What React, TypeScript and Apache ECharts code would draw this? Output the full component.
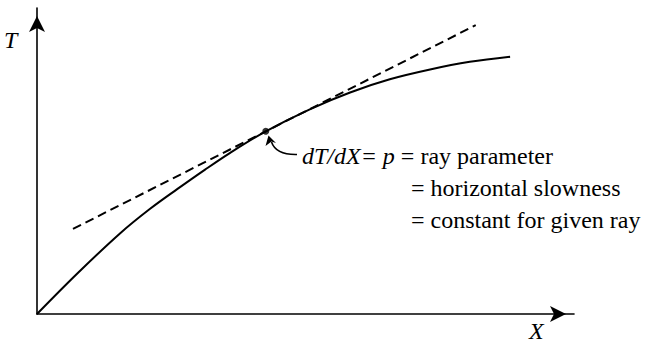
import React, { useEffect, useRef } from "react";
import * as echarts from "echarts";

// Travel-time curve T(X) (arbitrary units, 0..100 on both axes)
const curveX = [0, 7.6, 15.5, 21, 26.1, 31.3, 35.9, 42.6, 50.8, 58.3, 65.7, 73.2, 80.6, 88.1];
const curveT = [0, 13.4, 26.4, 34.3, 40.8, 47.2, 52.6, 59.7, 66.9, 72.4, 76.7, 79.9, 82.4, 84.1];

// Point where the slope is taken
const tangentPoint = [42.6, 59.7];

// Tangent line end points
const tangentX = [6.7, 81.7];
const tangentT = [27.8, 94.4];

const axisNames = ["X", "T"];
const noteLines = [
  "{i|dT/dX=}{r| }{i|p}{r| = ray parameter}",
  "= horizontal slowness",
  "= constant for given ray",
];

const FONT_REGULAR = "24px Liberation Serif, serif";
const FONT_ITALIC = "italic 24px Liberation Serif, serif";

export default function App() {
  const ref = useRef<HTMLDivElement>(null);

  useEffect(() => {
    if (!ref.current) return;
    const chart = echarts.init(ref.current, undefined, { renderer: "svg" });

    const axisCommon = {
      type: "value" as const,
      min: 0,
      max: 100,
      axisTick: { show: false },
      axisLabel: { show: false },
      splitLine: { show: false },
      axisLine: {
        show: true,
        onZero: false,
        symbol: ["none", "arrow"],
        symbolSize: [12, 16],
        symbolOffset: [0, -8],
        lineStyle: { color: "#000", width: 1.6 },
      },
    };

    chart.setOption({
      animation: false,
      backgroundColor: "#fff",
      grid: { left: 37, right: 78, top: 8, bottom: 32, containLabel: false },
      xAxis: { ...axisCommon },
      yAxis: { ...axisCommon },
      series: [
        {
          type: "line",
          data: curveX.map((x, i) => [x, curveT[i]]),
          smooth: 0.35,
          showSymbol: false,
          lineStyle: { color: "#000", width: 2 },
          z: 3,
        },
        {
          type: "line",
          data: tangentX.map((x, i) => [x, tangentT[i]]),
          showSymbol: false,
          lineStyle: { color: "#000", width: 2, type: [9, 5] },
          z: 2,
        },
        {
          type: "scatter",
          data: [tangentPoint],
          symbol: "circle",
          symbolSize: 7,
          itemStyle: { color: "#000" },
          z: 4,
        },
      ],
      graphic: [
        {
          type: "text",
          left: 4,
          top: 28,
          style: { text: axisNames[1], font: FONT_ITALIC, fill: "#000" },
        },
        {
          type: "text",
          left: 529,
          top: 319,
          style: { text: axisNames[0], font: FONT_ITALIC, fill: "#000" },
        },
        // curved pointer from the note to the tangent point
        {
          type: "bezierCurve",
          shape: { x1: 297, y1: 154.5, x2: 271.5, y2: 142, cpx1: 276, cpy1: 155 },
          style: { stroke: "#000", lineWidth: 1.6, fill: "none" },
        },
        {
          type: "polygon",
          shape: {
            points: [
              [268.5, 135.5],
              [276, 143],
              [271.5, 141.5],
              [265.5, 146],
            ],
          },
          style: { fill: "#000" },
        },
        {
          type: "text",
          left: 302,
          top: 144,
          style: {
            text: noteLines[0],
            fill: "#000",
            rich: {
              i: { font: FONT_ITALIC, color: "#000" },
              r: { font: FONT_REGULAR, color: "#000" },
            },
          },
        },
        {
          type: "text",
          left: 411,
          top: 176,
          style: { text: noteLines[1], font: FONT_REGULAR, fill: "#000" },
        },
        {
          type: "text",
          left: 411,
          top: 208,
          style: { text: noteLines[2], font: FONT_REGULAR, fill: "#000" },
        },
      ],
    });

    return () => chart.dispose();
  }, []);

  return (
    <div
      ref={ref}
      style={{ position: "fixed", left: 0, top: 0, width: 652, height: 346 }}
    />
  );
}
